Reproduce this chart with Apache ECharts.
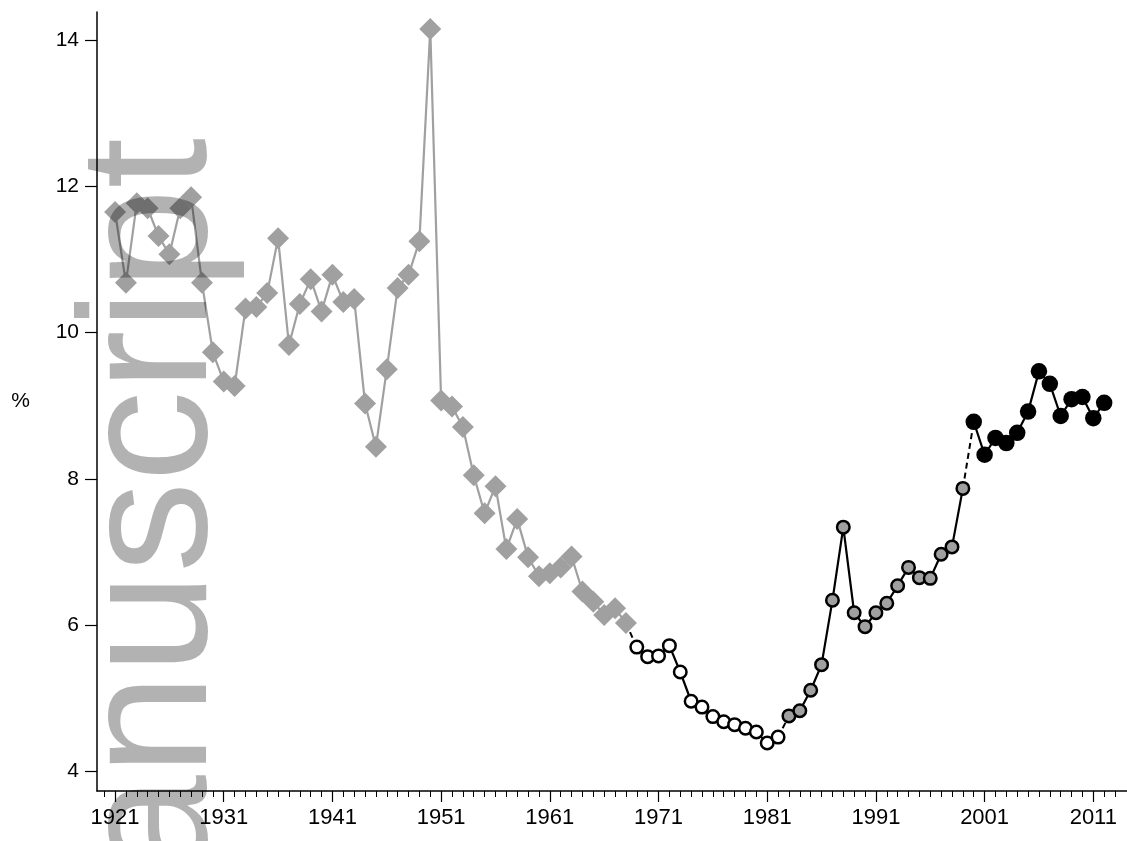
<!DOCTYPE html>
<html>
<head>
<meta charset="utf-8">
<script src="https://cdn.jsdelivr.net/npm/echarts@6/dist/echarts.min.js"></script>
<style>
  html, body { margin: 0; padding: 0; background: #fff; }
  #chart { width: 1127px; height: 841px; }
</style>
</head>
<body>
<div id="chart"></div>
<script>
// Annual series, in percent, split into the four source periods.
const diamondYears = [1921,1922,1923,1924,1925,1926,1927,1928,1929,1930,
  1931,1932,1933,1934,1935,1936,1937,1938,1939,1940,
  1941,1942,1943,1944,1945,1946,1947,1948,1949,1950,
  1951,1952,1953,1954,1955,1956,1957,1958,1959,1960,
  1961,1962,1963,1964,1965,1966,1967,1968];
const diamondValues = [11.65,10.68,11.77,11.70,11.32,11.07,11.70,11.85,10.68,9.73,
  9.33,9.27,10.33,10.35,10.54,11.29,9.83,10.39,10.73,10.29,
  10.79,10.42,10.46,9.03,8.44,9.50,10.61,10.79,11.25,14.15,
  9.07,8.99,8.71,8.05,7.53,7.90,7.04,7.45,6.93,6.67,
  6.71,6.79,6.94,6.46,6.32,6.14,6.23,6.03];

const openYears = [1969,1970,1971,1972,1973,1974,1975,1976,1977,1978,1979,1980,1981,1982];
const openValues = [5.70,5.57,5.58,5.72,5.36,4.96,4.88,4.75,4.68,4.64,4.59,4.54,4.39,4.47];

const greyYears = [1983,1984,1985,1986,1987,1988,1989,1990,1991,1992,1993,1994,1995,1996,1997,1998,1999];
const greyValues = [4.76,4.83,5.11,5.46,6.34,7.34,6.17,5.98,6.17,6.30,6.54,6.79,6.65,6.64,6.97,7.07,7.87];

const blackYears = [2000,2001,2002,2003,2004,2005,2006,2007,2008,2009,2010,2011,2012];
const blackValues = [8.78,8.33,8.56,8.49,8.63,8.92,9.47,9.30,8.86,9.09,9.12,8.83,9.04];

const yTicks = [4, 6, 8, 10, 12, 14];
const xTicks = [1921, 1931, 1941, 1951, 1961, 1971, 1981, 1991, 2001, 2011];
const xMinorTicks = [];
for (let y = 1920; y <= 2013; y++) xMinorTicks.push(y);

const pairs = (xs, vs) => xs.map((x, i) => [x, vs[i]]);
const last = (xs, vs) => [xs[xs.length - 1], vs[vs.length - 1]];
const first = (xs, vs) => [xs[0], vs[0]];

const FONT = '"Liberation Sans", Arial, Helvetica, sans-serif';
const GREY = '#a0a0a0';

const chart = echarts.init(document.getElementById('chart'), null, { renderer: 'canvas' });

const bridgeStyle = { color: '#000', width: 2, type: [6, 4] };

chart.setOption({
  animation: false,
  backgroundColor: '#fff',
  grid: { left: 97, right: 0, top: 12, bottom: 50, containLabel: false },
  xAxis: [
    {
      type: 'value', min: 1919.34, max: 2014.1, position: 'bottom',
      splitLine: { show: false },
      axisLine: { show: true, onZero: false, lineStyle: { color: '#000', width: 1.5 } },
      axisTick: { show: true, length: 11, customValues: xTicks, lineStyle: { color: '#000', width: 1.2 } },
      axisLabel: { customValues: xTicks, color: '#000', fontSize: 22, fontFamily: FONT, margin: 16,
                   formatter: v => String(v) }
    },
    {
      type: 'value', min: 1919.34, max: 2014.1, position: 'bottom', offset: 0,
      splitLine: { show: false },
      axisLine: { show: false },
      axisTick: { show: true, length: 6, customValues: xMinorTicks, lineStyle: { color: '#000', width: 1 } },
      axisLabel: { show: false }
    }
  ],
  yAxis: {
    type: 'value', min: 3.733, max: 14.383,
    name: '%', nameLocation: 'middle', nameRotate: 0, nameGap: 67,
    nameTextStyle: { color: '#000', fontSize: 21, fontFamily: FONT },
    splitLine: { show: false },
    axisLine: { show: true, onZero: false, lineStyle: { color: '#000', width: 1.5 } },
    axisTick: { show: true, length: 12, customValues: yTicks, lineStyle: { color: '#000', width: 1.2 } },
    axisLabel: { customValues: yTicks, color: '#000', fontSize: 21, fontFamily: FONT, margin: 18 }
  },
  series: [
    // dashed joins between the periods
    { type: 'line', z: 1, symbol: 'none', silent: true,
      data: [last(diamondYears, diamondValues), first(openYears, openValues)], lineStyle: bridgeStyle },
    { type: 'line', z: 1, symbol: 'none', silent: true,
      data: [last(openYears, openValues), first(greyYears, greyValues)], lineStyle: bridgeStyle },
    { type: 'line', z: 1, symbol: 'none', silent: true,
      data: [last(greyYears, greyValues), first(blackYears, blackValues)], lineStyle: bridgeStyle },
    {
      type: 'line', z: 2, data: pairs(diamondYears, diamondValues),
      symbol: 'diamond', symbolSize: 22, showAllSymbol: true,
      lineStyle: { color: GREY, width: 2.2 },
      itemStyle: { color: GREY, borderWidth: 0 }
    },
    {
      type: 'line', z: 3, data: pairs(openYears, openValues),
      symbol: 'circle', symbolSize: 12.5, showAllSymbol: true,
      lineStyle: { color: '#000', width: 2.2 },
      itemStyle: { color: '#fff', borderColor: '#000', borderWidth: 2.5 }
    },
    {
      type: 'line', z: 3, data: pairs(greyYears, greyValues),
      symbol: 'circle', symbolSize: 12.5, showAllSymbol: true,
      lineStyle: { color: '#000', width: 2.2 },
      itemStyle: { color: GREY, borderColor: '#000', borderWidth: 2.5 }
    },
    {
      type: 'line', z: 3, data: pairs(blackYears, blackValues),
      symbol: 'circle', symbolSize: 16.5, showAllSymbol: true,
      lineStyle: { color: '#000', width: 2.2 },
      itemStyle: { color: '#000', borderWidth: 0 }
    }
  ],
  graphic: [
    {
      type: 'text', z: 100, silent: true,
      x: 156, y: 138, rotation: Math.PI / 2,
      style: {
        text: 'Manuscript', fill: 'rgba(0,0,0,0.3)',
        font: '182px ' + FONT, textAlign: 'right', textVerticalAlign: 'middle'
      }
    }
  ]
});
</script>
</body>
</html>
